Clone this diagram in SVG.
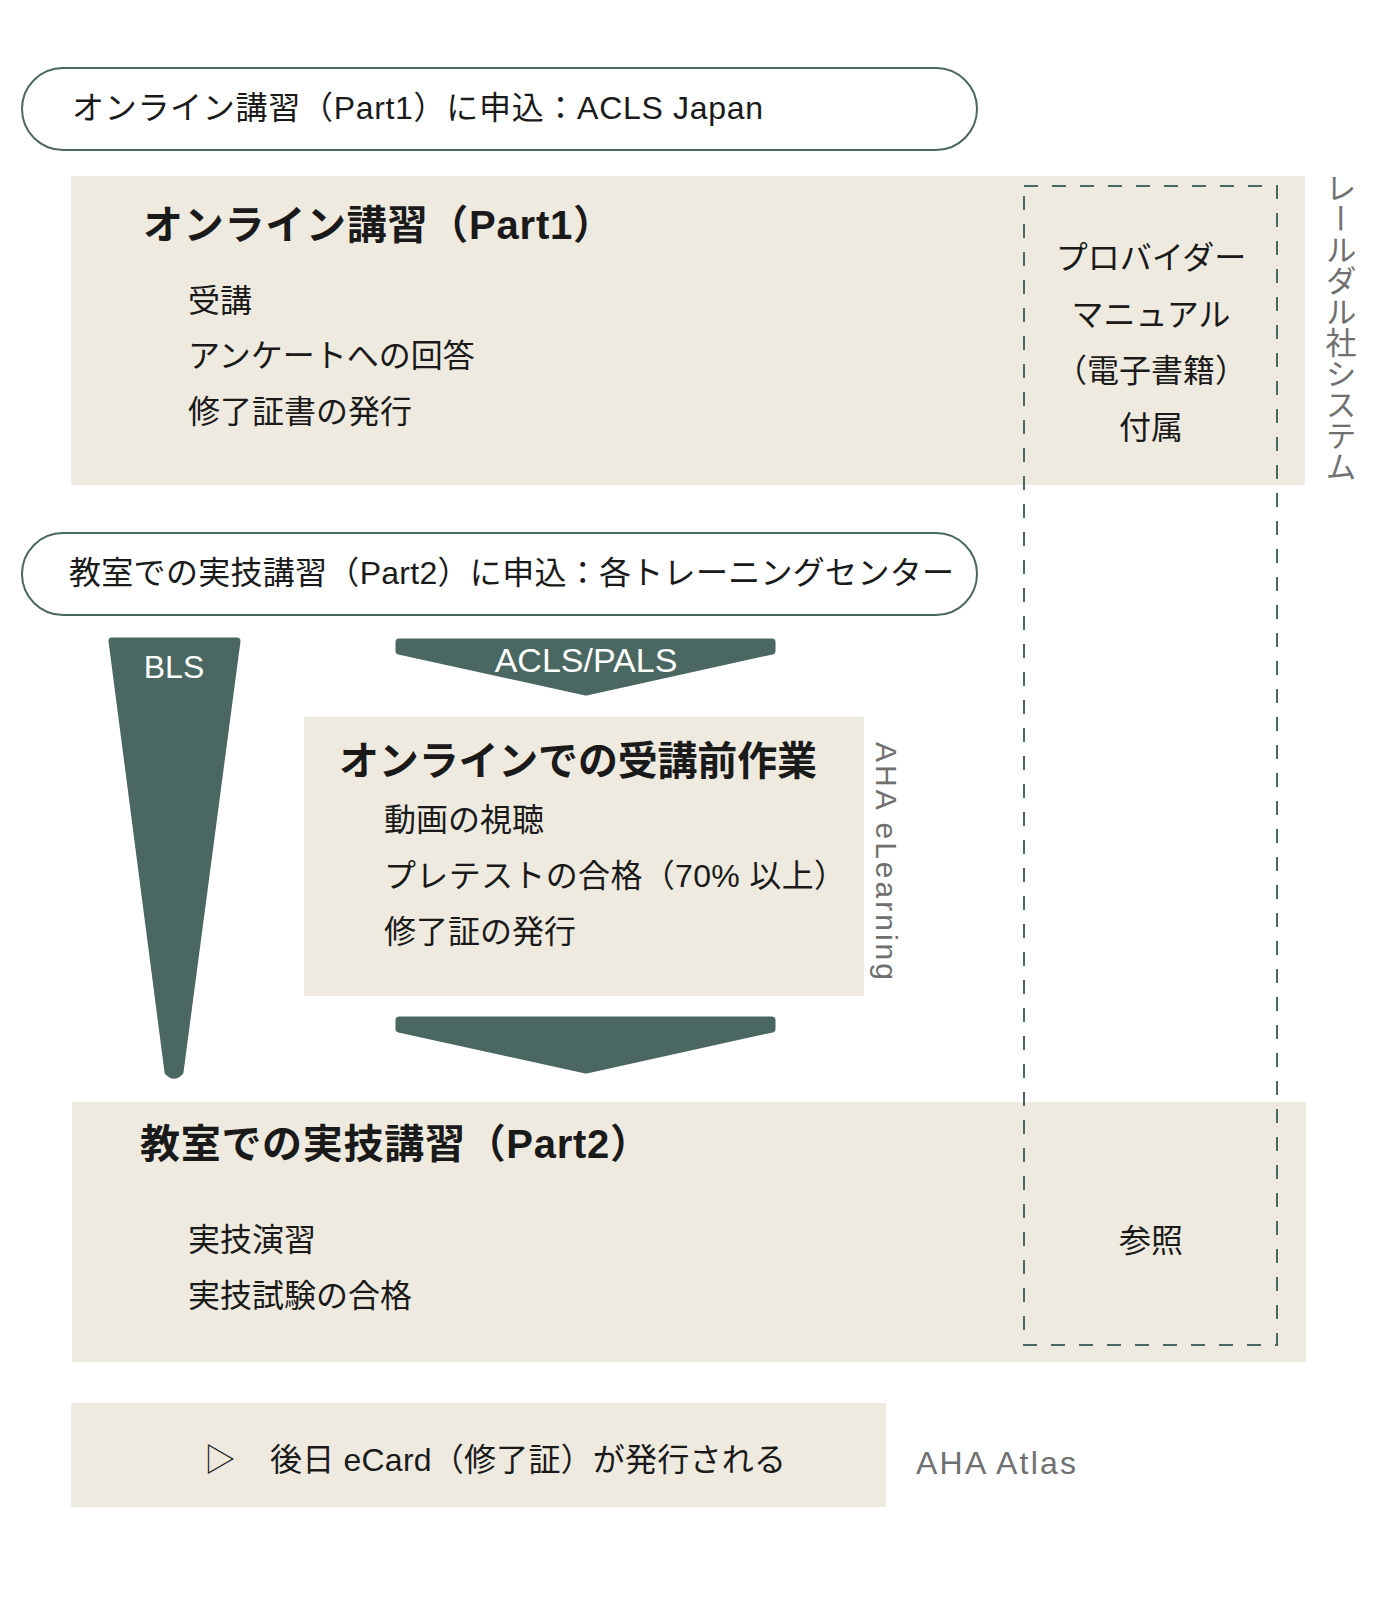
<svg xmlns="http://www.w3.org/2000/svg" width="1400" height="1600" viewBox="0 0 1400 1600">
<style>
  text { font-family: "Liberation Sans", "Noto Sans CJK JP", sans-serif; fill: #1a1a1a; }
  .pill { fill: #ffffff; stroke: #4b6761; stroke-width: 2; }
  .panel { fill: #efeadf; }
  .dark { fill: #4b6761; stroke: #4b6761; stroke-width: 7; stroke-linejoin: round; }
  .dash { fill: none; stroke: #4b6761; stroke-width: 2; stroke-dasharray: 14 14; }
  .head { font-size: 40px; font-weight: 700; }
  .body { font-size: 32px; }
  .pilltext { font-size: 32px; }
  .side { font-size: 31px; fill: #707070; }
  .white { fill: #ffffff; }
  .mid { text-anchor: middle; }
</style>

<rect width="1400" height="1600" fill="#ffffff"/>

<g id="apply-part1">
  <rect class="pill" x="22" y="68" width="955" height="82" rx="41" ry="41"/>
  <text class="pilltext" x="72" y="119" textLength="691" lengthAdjust="spacing">オンライン講習（Part1）に申込：ACLS Japan</text>
</g>

<g id="part1">
  <rect class="panel" x="71" y="176" width="1234" height="309"/>
  <text class="head" x="143" y="239" textLength="470" lengthAdjust="spacing">オンライン講習（Part1）</text>
  <text class="body" x="188" y="312">受講</text>
  <text class="body" x="188" y="367">アンケートへの回答</text>
  <text class="body" x="188" y="423">修了証書の発行</text>
</g>

<g id="laerdal-label">
  <text class="side" x="1338" y="172" style="writing-mode: vertical-rl;">レールダル社システム</text>
</g>

<g id="apply-part2">
  <rect class="pill" x="22" y="533" width="955" height="82" rx="41" ry="41"/>
  <text class="pilltext" x="69" y="584" textLength="885" lengthAdjust="spacing">教室での実技講習（Part2）に申込：各トレーニングセンター</text>
</g>

<g id="elearning">
  <rect class="panel" x="304" y="717" width="560" height="279"/>
  <text class="head" x="339" y="775" textLength="478" lengthAdjust="spacing">オンラインでの受講前作業</text>
  <text class="body" x="384" y="831">動画の視聴</text>
  <text class="body" x="384" y="887" textLength="462" lengthAdjust="spacing">プレテストの合格（70% 以上）</text>
  <text class="body" x="384" y="943">修了証の発行</text>
  <text class="side" transform="translate(876,742) rotate(90)" x="0" y="0" style="font-size:30px" textLength="238" lengthAdjust="spacing">AHA eLearning</text>
</g>

<g id="part2">
  <rect class="panel" x="72" y="1102" width="1234" height="260"/>
  <text class="head" x="140" y="1158" textLength="510" lengthAdjust="spacing">教室での実技講習（Part2）</text>
  <text class="body" x="188" y="1251">実技演習</text>
  <text class="body" x="188" y="1307">実技試験の合格</text>
</g>

<g id="ecard">
  <rect class="panel" x="71" y="1403" width="815" height="104"/>
  <text class="body" x="204" y="1471">▷</text>
  <text class="body" x="270" y="1471" textLength="516" lengthAdjust="spacing">後日 eCard（修了証）が発行される</text>
  <text class="side" x="916" y="1474" style="font-size:32px" textLength="160" lengthAdjust="spacing">AHA Atlas</text>
</g>

<g id="provider-manual">
  <rect class="dash" x="1024" y="186" width="253" height="1159"/>
  <text class="body mid" x="1151" y="269">プロバイダー</text>
  <text class="body mid" x="1151" y="326">マニュアル</text>
  <text class="body mid" x="1151" y="382">（電子書籍）</text>
  <text class="body mid" x="1151" y="439">付属</text>
  <text class="body mid" x="1151" y="1252">参照</text>
</g>

<g id="connectors">
  <g id="bls-funnel">
    <path class="dark" d="M112,641 L237,641 L180,1072 Q174,1078 168,1072 Z"/>
    <text class="white mid" x="174" y="678" style="font-size:32px">BLS</text>
  </g>
  <g id="acls-arrow">
    <path class="dark" d="M399,642 L772,642 L772,651 L586,692 L399,651 Z"/>
    <text class="white mid" x="586" y="672" style="font-size:34px">ACLS/PALS</text>
  </g>
  <g id="arrow-to-part2">
    <path class="dark" d="M399,1020 L772,1020 L772,1029 L586,1070 L399,1029 Z"/>
  </g>
</g>
</svg>
